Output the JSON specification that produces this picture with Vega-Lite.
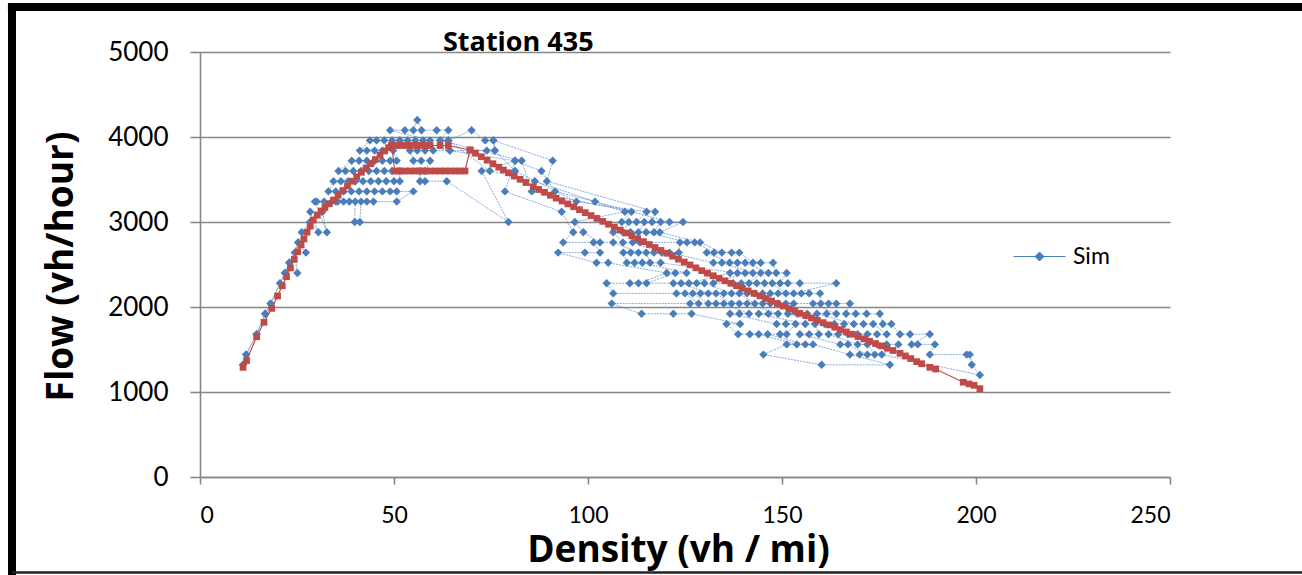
{
"$schema":"https://vega.github.io/schema/vega-lite/v6.json",
"width":970,"height":425,
"autosize":{"type":"none"},
"padding":{"left":200,"top":52,"right":132,"bottom":98},
"background":"white",
"title":{"text":"Station 435","anchor":"start","frame":"group","dx":243,"dy":79,"offset":0,"baseline":"alphabetic","fontSize":27,"font":"Open Sans","fontWeight":"bold","color":"#000"},
"config":{"font":"Lato","view":{"stroke":null},
"axis":{"domainColor":"#868686","domainWidth":1.6,"tickColor":"#868686","tickWidth":1.6,"gridColor":"#868686","gridWidth":1.6,"gridOpacity":1,"labelColor":"#000","titleColor":"#000","labelFont":"Lato","titleFont":"Open Sans"}},
"datasets":{
"sim":[
{"k":11.1,"q":1320},{"k":11.9,"q":1440},{"k":14.6,"q":1680},{"k":16.8,"q":1920},{"k":18.2,"q":2040},{"k":20.6,"q":2280},{"k":21.9,"q":2400},{"k":23,"q":2520},{"k":25.1,"q":2400},{"k":24.4,"q":2640},{"k":25.3,"q":2760},{"k":27.3,"q":2640},{"k":26.2,"q":2880},{"k":28.4,"q":3000},{"k":30.5,"q":2880},{"k":28.4,"q":3120},{"k":31.5,"q":3120},{"k":32.7,"q":2880},{"k":29.6,"q":3240},
{"k":30.1,"q":3240},{"k":32,"q":3240},{"k":34,"q":3240},{"k":35.5,"q":3240},{"k":37,"q":3240},{"k":38.5,"q":3240},{"k":40,"q":3240},{"k":39.9,"q":3000},{"k":41.2,"q":3000},{"k":41.5,"q":3240},{"k":43,"q":3240},{"k":44.7,"q":3240},{"k":50.7,"q":3240},
{"k":55,"q":3360},{"k":50.7,"q":3360},{"k":49,"q":3360},{"k":47,"q":3360},{"k":45,"q":3360},{"k":43,"q":3360},{"k":41,"q":3360},{"k":39,"q":3360},{"k":37,"q":3360},{"k":35,"q":3360},{"k":33.1,"q":3360},
{"k":34.4,"q":3480},{"k":36.3,"q":3480},{"k":38.2,"q":3480},{"k":40,"q":3480},{"k":42,"q":3480},{"k":44,"q":3480},{"k":46,"q":3480},{"k":48,"q":3480},{"k":50,"q":3480},{"k":51.5,"q":3480},
{"k":51.5,"q":3600},{"k":49.5,"q":3600},{"k":47.5,"q":3600},{"k":45.5,"q":3600},{"k":43.5,"q":3600},{"k":41.5,"q":3600},{"k":39.5,"q":3600},{"k":37.5,"q":3600},{"k":35.7,"q":3600},
{"k":39.1,"q":3720},{"k":41,"q":3720},{"k":43,"q":3720},{"k":45,"q":3720},{"k":47,"q":3720},{"k":49,"q":3720},{"k":50.7,"q":3720},
{"k":49.8,"q":3840},{"k":47,"q":3840},{"k":45,"q":3840},{"k":43,"q":3840},{"k":41.2,"q":3840},
{"k":43.8,"q":3960},{"k":45.5,"q":3960},{"k":47.5,"q":3960},{"k":49.5,"q":3960},{"k":51.5,"q":3960},{"k":53.5,"q":3960},{"k":55.5,"q":3960},{"k":57.5,"q":3960},{"k":59.3,"q":3960},
{"k":49,"q":4080},{"k":52.8,"q":4080},{"k":55,"q":4080},{"k":56,"q":4200},{"k":57.1,"q":4080},{"k":61,"q":4080},{"k":64,"q":4080},
{"k":61.9,"q":3960},{"k":64,"q":3960},{"k":70,"q":4080},{"k":73.5,"q":3960},{"k":75.6,"q":3960},{"k":76,"q":3840},{"k":73.9,"q":3840},{"k":64.4,"q":3840},{"k":60.1,"q":3840},{"k":58,"q":3840},{"k":56,"q":3840},{"k":54.1,"q":3840},{"k":55,"q":3720},{"k":57,"q":3720},{"k":59.3,"q":3720},{"k":58,"q":3600},{"k":56.7,"q":3600},{"k":56.7,"q":3480},{"k":58,"q":3480},{"k":63.6,"q":3480},
{"k":79.5,"q":3000},{"k":72.6,"q":3600},{"k":81.2,"q":3720},{"k":78.6,"q":3360},{"k":93.2,"q":3120},{"k":96.2,"q":2880},{"k":93.6,"q":2760},{"k":101.4,"q":2760},{"k":103.1,"q":2640},{"k":99.2,"q":2640},{"k":92.3,"q":2640},{"k":102.2,"q":2520},{"k":105.2,"q":2520},{"k":120.3,"q":2400},{"k":113,"q":2280},{"k":110.8,"q":2280},{"k":104.8,"q":2280},{"k":106.5,"q":2160},{"k":122.8,"q":2160},{"k":125,"q":2160},{"k":128.5,"q":2040},{"k":126.3,"q":2040},{"k":106.1,"q":2040},{"k":113.8,"q":1920},{"k":122,"q":1920},{"k":126.7,"q":1920},{"k":139.2,"q":1800},{"k":135.7,"q":1800},{"k":138.7,"q":1680},{"k":141.7,"q":1680},{"k":144,"q":1680},{"k":153.8,"q":1560},{"k":151.2,"q":1560},{"k":145.2,"q":1440},{"k":160.2,"q":1320},
{"k":177.8,"q":1320},{"k":167.5,"q":1440},{"k":158,"q":1560},{"k":156,"q":1560},{"k":146.3,"q":1680},{"k":149.5,"q":1680},{"k":151.2,"q":1680},{"k":153.5,"q":1800},{"k":151,"q":1800},{"k":148.6,"q":1800},{"k":136.6,"q":1920},{"k":139,"q":1920},{"k":141.5,"q":1920},{"k":135,"q":2040},{"k":133,"q":2040},{"k":131,"q":2040},{"k":127,"q":2160},{"k":129,"q":2160},{"k":131,"q":2160},{"k":124,"q":2280},{"k":122,"q":2280},{"k":115.1,"q":2280},{"k":122.5,"q":2400},{"k":125.4,"q":2400},{"k":114,"q":2520},{"k":112,"q":2520},{"k":110,"q":2520},{"k":109.1,"q":2640},{"k":111,"q":2640},{"k":113,"q":2640},{"k":106.5,"q":2760},{"k":103.1,"q":2760},{"k":98.8,"q":2880},{"k":96.6,"q":3000},{"k":109.5,"q":3120},{"k":86.3,"q":3480},{"k":74.7,"q":3600},{"k":64,"q":3960},{"k":61.9,"q":3960},
{"k":82.9,"q":3720},{"k":85.5,"q":3360},{"k":111.2,"q":3120},{"k":108.7,"q":3000},{"k":110.5,"q":3000},{"k":109,"q":2880},{"k":106.5,"q":2880},{"k":109,"q":2760},{"k":111.5,"q":2760},{"k":119,"q":2640},{"k":117,"q":2640},{"k":115,"q":2640},{"k":116,"q":2520},{"k":118.7,"q":2520},{"k":138.5,"q":2400},{"k":136.6,"q":2400},{"k":126,"q":2280},{"k":128,"q":2280},{"k":130,"q":2280},{"k":137,"q":2160},{"k":135,"q":2160},{"k":133,"q":2160},{"k":137,"q":2040},{"k":139,"q":2040},{"k":141,"q":2040},{"k":149,"q":1920},{"k":146.5,"q":1920},{"k":144,"q":1920},{"k":156,"q":1800},{"k":158.5,"q":1800},{"k":159.5,"q":1680},{"k":157,"q":1680},{"k":154.6,"q":1680},{"k":165,"q":1560},{"k":167,"q":1560},{"k":172,"q":1440},{"k":170,"q":1440},
{"k":173.9,"q":1440},{"k":172,"q":1560},{"k":169.5,"q":1560},{"k":162,"q":1680},{"k":164.5,"q":1680},{"k":167,"q":1680},{"k":166,"q":1800},{"k":163.5,"q":1800},{"k":161,"q":1800},{"k":151.5,"q":1920},{"k":154,"q":1920},{"k":156.5,"q":1920},{"k":147,"q":2040},{"k":145,"q":2040},{"k":143,"q":2040},{"k":139,"q":2160},{"k":141,"q":2160},{"k":143,"q":2160},{"k":139.5,"q":2280},{"k":137.4,"q":2280},{"k":132.3,"q":2280},{"k":140.5,"q":2400},{"k":142.5,"q":2400},{"k":134.5,"q":2520},{"k":132.3,"q":2520},{"k":121,"q":2640},{"k":123.4,"q":2640},{"k":123.7,"q":2760},{"k":113.4,"q":2760},{"k":111,"q":2880},{"k":113,"q":2880},{"k":114.5,"q":3000},{"k":112.5,"q":3000},{"k":115.1,"q":3120},{"k":97,"q":3240},{"k":81.2,"q":3600},{"k":76,"q":3840},{"k":75.6,"q":3960},
{"k":90.9,"q":3720},{"k":89.4,"q":3480},{"k":117.3,"q":3120},{"k":116.5,"q":3000},{"k":118.7,"q":3000},{"k":117,"q":2880},{"k":115,"q":2880},{"k":125.5,"q":2760},{"k":127.5,"q":2760},{"k":132.5,"q":2640},{"k":130.6,"q":2640},{"k":136.5,"q":2520},{"k":138.5,"q":2520},{"k":140.5,"q":2520},{"k":146.5,"q":2400},{"k":144.5,"q":2400},{"k":141.5,"q":2280},{"k":143.5,"q":2280},{"k":145.5,"q":2280},{"k":147.5,"q":2280},{"k":151,"q":2160},{"k":149,"q":2160},{"k":147,"q":2160},{"k":145,"q":2160},{"k":149,"q":2040},{"k":151,"q":2040},{"k":153,"q":2040},{"k":158,"q":2040},{"k":164,"q":1920},{"k":161.5,"q":1920},{"k":159,"q":1920},{"k":168.5,"q":1800},{"k":171,"q":1800},{"k":173.5,"q":1800},{"k":177,"q":1680},{"k":174.5,"q":1680},{"k":172,"q":1680},{"k":169.5,"q":1680},{"k":174.5,"q":1560},{"k":177,"q":1560},{"k":180,"q":1560},{"k":175.7,"q":1440},
{"k":201,"q":1200},{"k":198.9,"q":1320},{"k":198.4,"q":1440},{"k":197.6,"q":1440},{"k":188.1,"q":1440},{"k":189.4,"q":1560},{"k":185,"q":1560},{"k":183.4,"q":1560},{"k":188.1,"q":1680},{"k":183,"q":1680},{"k":180.4,"q":1680},{"k":178.2,"q":1800},{"k":176,"q":1800},{"k":175.2,"q":1920},{"k":171.8,"q":1920},{"k":169,"q":1920},{"k":166.5,"q":1920},{"k":167.5,"q":2040},{"k":164,"q":2040},{"k":162,"q":2040},{"k":160,"q":2040},{"k":159.8,"q":2160},{"k":157,"q":2160},{"k":155,"q":2160},{"k":153,"q":2160},{"k":164,"q":2280},{"k":154.6,"q":2280},{"k":151.5,"q":2280},{"k":149.5,"q":2280},{"k":151.2,"q":2400},{"k":148.5,"q":2400},{"k":147.7,"q":2520},{"k":144.5,"q":2520},{"k":142.5,"q":2520},{"k":139,"q":2640},{"k":137,"q":2640},{"k":134.5,"q":2640},{"k":128.9,"q":2760},{"k":118.5,"q":2880},{"k":124.5,"q":3000},{"k":121,"q":3000},{"k":101.8,"q":3240},{"k":91.5,"q":3360},{"k":88,"q":3600},
{"k":81.2,"q":3720},{"k":64.4,"q":3840},{"k":51.5,"q":3960},{"k":45,"q":3720},{"k":40,"q":3480},{"k":35,"q":3240},{"k":31.5,"q":3120},{"k":28.4,"q":3000},{"k":25.3,"q":2760},{"k":23,"q":2520},{"k":21.9,"q":2400},{"k":18.2,"q":2040},{"k":16.8,"q":1920},{"k":14.6,"q":1680},{"k":11.9,"q":1440},{"k":11.1,"q":1320}
],
"model":[
{"g":"a","k":11.1,"q":1290},{"g":"a","k":12,"q":1370},{"g":"a","k":14.6,"q":1650},{"g":"a","k":16.5,"q":1820},{"g":"a","k":18.5,"q":1984},{"g":"a","k":20,"q":2130},{"g":"a","k":21.2,"q":2250},{"g":"a","k":22.3,"q":2357},{"g":"a","k":23.3,"q":2460},{"g":"a","k":24.3,"q":2560},{"g":"a","k":25.2,"q":2650},{"g":"a","k":26,"q":2730},{"g":"a","k":26.8,"q":2800},{"g":"a","k":27.6,"q":2880},{"g":"a","k":28.4,"q":2950},{"g":"a","k":29.2,"q":3024},{"g":"a","k":30.2,"q":3080},{"g":"a","k":31.2,"q":3130},{"g":"a","k":32.2,"q":3170},{"g":"a","k":33.3,"q":3215},{"g":"a","k":34.4,"q":3259},{"g":"a","k":35.6,"q":3315},{"g":"a","k":36.8,"q":3370},{"g":"a","k":38,"q":3425},{"g":"a","k":39.2,"q":3480},{"g":"a","k":40.4,"q":3533},{"g":"a","k":41.6,"q":3585},{"g":"a","k":42.8,"q":3635},{"g":"a","k":44,"q":3685},{"g":"a","k":45.2,"q":3735},{"g":"a","k":46.4,"q":3785},{"g":"a","k":47.6,"q":3835},{"g":"a","k":48.6,"q":3875},{"g":"a","k":49.4,"q":3900},
{"g":"a","k":50.5,"q":3900},{"g":"a","k":51.6,"q":3900},{"g":"a","k":52.7,"q":3900},{"g":"a","k":53.8,"q":3900},{"g":"a","k":54.9,"q":3900},{"g":"a","k":56,"q":3900},{"g":"a","k":57.1,"q":3900},{"g":"a","k":58.2,"q":3900},{"g":"a","k":59.3,"q":3900},{"g":"a","k":61.9,"q":3900},{"g":"a","k":64,"q":3900},
{"g":"a","k":69.6,"q":3847},{"g":"a","k":71,"q":3809},{"g":"a","k":72.5,"q":3768},{"g":"a","k":74,"q":3727},{"g":"a","k":75.5,"q":3686},{"g":"a","k":77,"q":3645},{"g":"a","k":78.2,"q":3612},{"g":"a","k":79.5,"q":3579},{"g":"a","k":81,"q":3540},{"g":"a","k":82.5,"q":3502},{"g":"a","k":84,"q":3464},{"g":"a","k":85.9,"q":3415},{"g":"a","k":87.3,"q":3383},{"g":"a","k":88.8,"q":3349},{"g":"a","k":90.3,"q":3315},{"g":"a","k":91.8,"q":3281},{"g":"a","k":93.3,"q":3247},{"g":"a","k":94.8,"q":3213},{"g":"a","k":96.3,"q":3179},{"g":"a","k":97.8,"q":3145},{"g":"a","k":99.3,"q":3110},{"g":"a","k":100.8,"q":3076},{"g":"a","k":102.3,"q":3042},{"g":"a","k":103.8,"q":3008},{"g":"a","k":105.3,"q":2974},{"g":"a","k":106.8,"q":2940},{"g":"a","k":108.3,"q":2905},{"g":"a","k":109.8,"q":2871},{"g":"a","k":111.3,"q":2837},{"g":"a","k":112.8,"q":2803},{"g":"a","k":114.3,"q":2769},{"g":"a","k":115.8,"q":2735},{"g":"a","k":117.3,"q":2700},{"g":"a","k":118.8,"q":2666},{"g":"a","k":120.3,"q":2632},{"g":"a","k":121.8,"q":2598},{"g":"a","k":123.3,"q":2563},{"g":"a","k":124.8,"q":2529},{"g":"a","k":126.3,"q":2495},{"g":"a","k":127.8,"q":2461},{"g":"a","k":129.3,"q":2427},{"g":"a","k":130.8,"q":2397},{"g":"a","k":132.3,"q":2368},{"g":"a","k":133.8,"q":2338},{"g":"a","k":135.3,"q":2308},{"g":"a","k":136.8,"q":2279},{"g":"a","k":138.3,"q":2249},{"g":"a","k":139.8,"q":2219},{"g":"a","k":141.3,"q":2189},{"g":"a","k":142.8,"q":2160},{"g":"a","k":144.3,"q":2130},{"g":"a","k":145.8,"q":2100},{"g":"a","k":147.3,"q":2071},{"g":"a","k":148.8,"q":2041},{"g":"a","k":150.3,"q":2011},{"g":"a","k":151.8,"q":1981},{"g":"a","k":153.3,"q":1952},{"g":"a","k":154.6,"q":1926},{"g":"a","k":156.1,"q":1899},{"g":"a","k":157.6,"q":1871},{"g":"a","k":159.1,"q":1844},{"g":"a","k":160.6,"q":1816},{"g":"a","k":162.1,"q":1789},{"g":"a","k":163.6,"q":1762},{"g":"a","k":165.1,"q":1734},{"g":"a","k":166.6,"q":1707},{"g":"a","k":168.1,"q":1680},{"g":"a","k":169.6,"q":1652},{"g":"a","k":171.1,"q":1625},{"g":"a","k":172.6,"q":1597},{"g":"a","k":174.1,"q":1570},{"g":"a","k":175.6,"q":1543},{"g":"a","k":177.1,"q":1515},{"g":"a","k":178.6,"q":1488},{"g":"a","k":180.4,"q":1455},{"g":"a","k":181.8,"q":1425},{"g":"a","k":183.2,"q":1393},{"g":"a","k":184.7,"q":1357},{"g":"a","k":186,"q":1333},{"g":"a","k":188.1,"q":1290},{"g":"a","k":189.6,"q":1270},{"g":"a","k":196.7,"q":1115},{"g":"a","k":198.2,"q":1095},{"g":"a","k":199.5,"q":1078},{"g":"a","k":201,"q":1039},
{"g":"b","k":49.4,"q":3900},{"g":"b","k":50.2,"q":3600},{"g":"b","k":51.5,"q":3600},{"g":"b","k":52.8,"q":3600},{"g":"b","k":54.1,"q":3600},{"g":"b","k":55.4,"q":3600},{"g":"b","k":56.7,"q":3600},{"g":"b","k":58,"q":3600},{"g":"b","k":59.3,"q":3600},{"g":"b","k":60.6,"q":3600},{"g":"b","k":61.9,"q":3600},{"g":"b","k":63.2,"q":3600},{"g":"b","k":64.5,"q":3600},{"g":"b","k":65.8,"q":3600},{"g":"b","k":67.1,"q":3600},{"g":"b","k":68.3,"q":3600},{"g":"b","k":69.6,"q":3847}
]
},
"layer":[
{"data":{"name":"sim"},"mark":{"type":"line","color":"#5a8ac6","strokeWidth":0.9,"opacity":0.8,"strokeDash":[2,1]},
 "encoding":{
  "x":{"field":"k","type":"quantitative","scale":{"domain":[0,250],"nice":false},"axis":{"values":[0,50,100,150,200,250],"title":"Density (vh / mi)","grid":false,"tickSize":7,"labelFontSize":23,"labelPadding":20,"titleFontSize":37,"titleFontWeight":"bold","titleX":478,"titleY":84,"titleBaseline":"alphabetic","titleAlign":"center"}},
  "y":{"field":"q","type":"quantitative","scale":{"domain":[0,5000],"nice":false},"axis":{"values":[0,1000,2000,3000,4000,5000],"format":"d","title":"Flow (vh/hour)","grid":true,"tickSize":10,"labelFontSize":26,"labelPadding":22,"titleFontSize":37,"titleFontWeight":"bold","titleX":-139,"titleY":214,"titleAlign":"center","titleBaseline":"middle","titleAngle":-90}},
  "order":{"value":null}}},
{"data":{"name":"sim"},"mark":{"type":"point","shape":"diamond","filled":true,"size":70,"opacity":1},
 "encoding":{
  "x":{"field":"k","type":"quantitative","scale":{"domain":[0,250],"nice":false}},
  "y":{"field":"q","type":"quantitative","scale":{"domain":[0,5000],"nice":false}},
  "color":{"datum":"Sim","type":"nominal","scale":{"range":["#4a7ebb"]},
   "legend":{"orient":"none","legendX":828,"legendY":193,"title":null,"padding":0,"symbolType":"M-2.6,0H2.6M0,-0.45L0.45,0L0,0.45L-0.45,0Z","symbolSize":400,"symbolStrokeWidth":1,"symbolStrokeColor":"#4a7ebb","symbolFillColor":"#4a7ebb","labelFontSize":23,"labelFont":"Lato","labelColor":"#000","labelOffset":22,
    "encode":{"symbols":{"update":{"stroke":{"value":"#4a7ebb"},"strokeWidth":{"value":1},"fill":{"value":"#4a7ebb"}}}}}}}},
{"data":{"name":"model"},"mark":{"type":"line","color":"#be4b48","strokeWidth":1.2},
 "encoding":{"x":{"field":"k","type":"quantitative","scale":{"domain":[0,250],"nice":false}},"y":{"field":"q","type":"quantitative","scale":{"domain":[0,5000],"nice":false}},"detail":{"field":"g"},"order":{"value":null}}},
{"data":{"name":"model"},"mark":{"type":"square","color":"#be4b48","size":45,"opacity":1},
 "encoding":{"x":{"field":"k","type":"quantitative","scale":{"domain":[0,250],"nice":false}},"y":{"field":"q","type":"quantitative","scale":{"domain":[0,5000],"nice":false}}}},
{"data":{"values":[{}]},"mark":{"type":"rule","color":"#000","strokeWidth":8,"clip":false},
 "encoding":{"x":{"datum":-49.5,"type":"quantitative","scale":{"domain":[0,250],"nice":false}},"x2":{"datum":290},"y":{"datum":5529,"type":"quantitative","scale":{"domain":[0,5000],"nice":false}}}},
{"data":{"values":[{}]},"mark":{"type":"rule","color":"#000","strokeWidth":8,"clip":false},
 "encoding":{"x":{"datum":-48.45,"type":"quantitative","scale":{"domain":[0,250],"nice":false}},"y":{"datum":5576,"type":"quantitative","scale":{"domain":[0,5000],"nice":false}},"y2":{"datum":-1250}}},
{"data":{"values":[{}]},"mark":{"type":"rule","color":"#222","strokeWidth":2.5,"clip":false},
 "encoding":{"x":{"datum":-48.45,"type":"quantitative","scale":{"domain":[0,250],"nice":false}},"x2":{"datum":290},"y":{"datum":-1123.5,"type":"quantitative","scale":{"domain":[0,5000],"nice":false}}}}
]
}
